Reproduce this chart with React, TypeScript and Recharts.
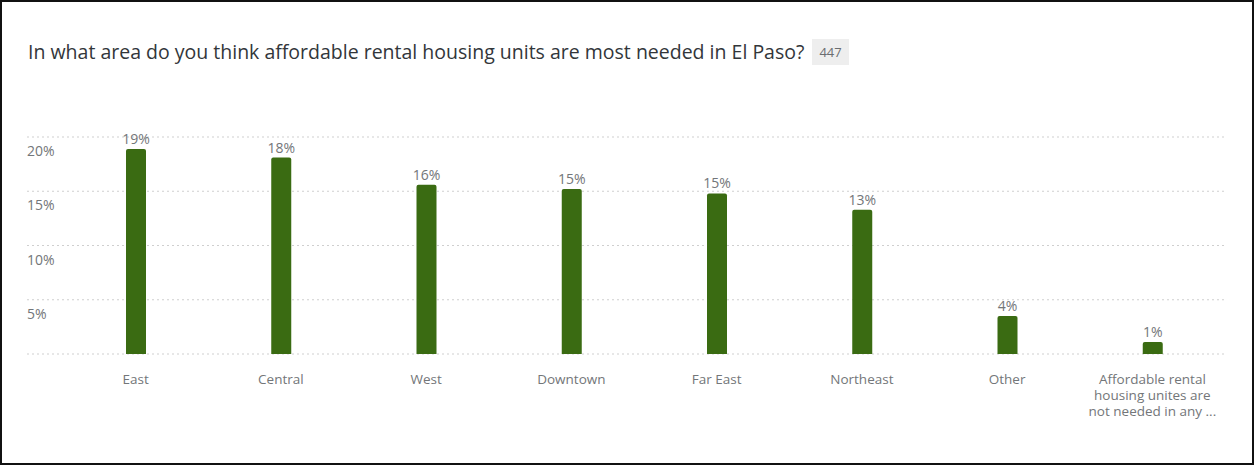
import React from "react";
import { BarChart, Bar, XAxis, YAxis, CartesianGrid, LabelList } from "recharts";

const title =
  "In what area do you think affordable rental housing units are most needed in El Paso?";
const responses = "447";

const categories = [
  "East",
  "Central",
  "West",
  "Downtown",
  "Far East",
  "Northeast",
  "Other",
  "Affordable rental\nhousing unites are\nnot needed in any ...",
];
const shares = [18.9, 18.1, 15.6, 15.2, 14.8, 13.3, 3.5, 1.1];
const yTicks = [0, 5, 10, 15, 20];

const data = categories.map((name, i) => ({ name, value: shares[i] }));

const FONT = "'Open Sans', 'Noto Sans', sans-serif";
const GREY = "#737679";

function XTick(props: any) {
  const { x, y, payload } = props;
  const lines = String(payload.value).split("\n");
  return (
    <text
      x={x}
      y={y + 22}
      textAnchor="middle"
      fill={GREY}
      fontSize={13.5}
      fontFamily={FONT}
    >
      {lines.map((l, i) => (
        <tspan key={i} x={x} dy={i === 0 ? 0 : 16}>
          {l}
        </tspan>
      ))}
    </text>
  );
}

function YTick(props: any) {
  const { y, payload } = props;
  if (payload.value === 0) return null;
  return (
    <text
      x={27}
      y={y + 19}
      textAnchor="start"
      fill={GREY}
      fontSize={14}
      fontFamily={FONT}
    >
      {payload.value}%
    </text>
  );
}

export default function App() {
  return (
    <div
      style={{
        position: "fixed",
        left: 0,
        top: 0,
        width: 1254,
        height: 465,
        boxSizing: "border-box",
        border: "2px solid #111",
        background: "#fff",
      }}
    >
      <div
        style={{
          position: "absolute",
          left: 26,
          top: 36,
          display: "flex",
          alignItems: "center",
          fontFamily: FONT,
        }}
      >
        <span style={{ fontSize: 19.5, color: "#32363a" }}>{title}</span>
        <span
          style={{
            marginLeft: 8,
            background: "#eeeeee",
            color: "#6a6d70",
            fontSize: 13,
            padding: "4px 7px",
          }}
        >
          {responses}
        </span>
      </div>
      <div style={{ position: "absolute", left: -2, top: -2 }}>
        <BarChart
          width={1254}
          height={465}
          data={data}
          margin={{ top: 137, right: 29, bottom: 51, left: 26 }}
        >
          <CartesianGrid
            vertical={false}
            stroke="#cfcfcf"
            strokeDasharray="2 3"
          />
          <XAxis
            dataKey="name"
            axisLine={false}
            tickLine={false}
            height={60}
            padding={{ left: 36, right: 0 }}
            tick={<XTick />}
            interval={0}
          />
          <YAxis
            width={1}
            domain={[0, 20]}
            ticks={yTicks}
            interval={0}
            axisLine={false}
            tickLine={false}
            tick={(p: any) => <YTick {...p} />}
          />
          <Bar
            dataKey="value"
            fill="#3a6b12"
            barSize={20}
            radius={[2, 2, 0, 0]}
            isAnimationActive={false}
          >
            <LabelList
              dataKey="value"
              position="top"
              offset={5}
              fill={GREY}
              fontSize={14}
              fontFamily={FONT}
              formatter={(v: any) => `${Math.round(v)}%`}
            />
          </Bar>
        </BarChart>
      </div>
    </div>
  );
}
